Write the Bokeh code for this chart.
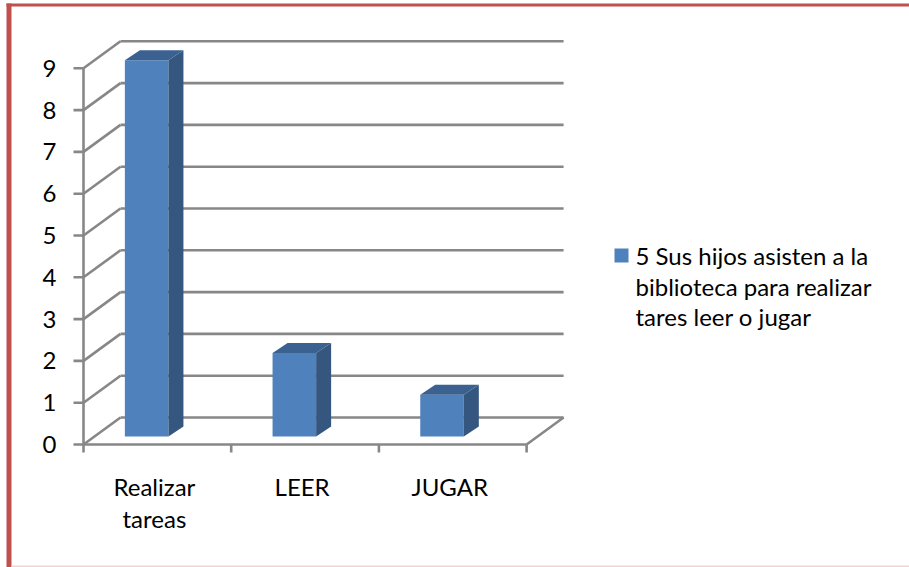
from bokeh.plotting import figure
from bokeh.models import Range1d
from bokeh.core.properties import value
from bokeh.embed import file_html
from bokeh.resources import INLINE

# ---- data ----
categories = ["Realizar\ntareas", "LEER", "JUGAR"]
values = [9, 2, 1]
y_ticks = [0, 1, 2, 3, 4, 5, 6, 7, 8, 9]
x_bounds = [0, 1, 2, 3]
legend_lines = ["5 Sus hijos asisten a la", "biblioteca  para realizar", "tares leer o jugar"]

# ---- geometry (pixel scale of the drawing) ----
W, H = 909, 567
SX, X0 = 147.7, 83.0   # px per category, px of category origin
SY, Y0 = 41.8, 444.0   # px per unit value, px (from top) of value 0

def xd(px):
    return (px - X0) / SX

def yd(py):
    return (Y0 - py) / SY

DX = 37 / SX          # depth offset of back wall
DY = 27 / SY
BAR_L, BAR_R = 0.28, 0.575   # bar front face within a category
BAR_B = 8 / SY               # bar base lift (depth)
SDX, SDY = 15 / SX, 10 / SY  # bar side depth

FONT = value("Lato")
FS = "24px"
GRID = "#878787"
FRONT, SIDE, TOP = "#4f81bd", "#34567f", "#3b6191"

p = figure(width=W, height=H, x_range=Range1d(xd(0), xd(W)), y_range=Range1d(yd(H), yd(0)),
           x_axis_type=None, y_axis_type=None, toolbar_location=None,
           output_backend="svg", min_border=0)
p.grid.visible = False
p.outline_line_color = None
p.background_fill_color = "white"
p.border_fill_color = "white"

# ---- frame decoration ----
p.quad(left=[xd(6)], right=[xd(11)], bottom=[yd(567)], top=[yd(3)], color="#c0504d", line_color=None)
p.quad(left=[xd(6)], right=[xd(909)], bottom=[yd(6)], top=[yd(3)], color="#c0504d", line_color=None)
p.quad(left=[xd(11)], right=[xd(909)], bottom=[yd(567)], top=[yd(565)], color="#f4d2d2", line_color=None)

# ---- walls / gridlines ----
n = len(categories)
p.segment(x0=[DX] * len(y_ticks), y0=[t + DY for t in y_ticks],
          x1=[n + DX] * len(y_ticks), y1=[t + DY for t in y_ticks], line_color=GRID, line_width=2.6)
p.segment(x0=[0] * len(y_ticks), y0=y_ticks, x1=[DX] * len(y_ticks), y1=[t + DY for t in y_ticks],
          line_color=GRID, line_width=2.6)
# floor front edge and right edge
p.segment(x0=[0, n], y0=[0, 0], x1=[n, n + DX], y1=[0, DY], line_color=GRID, line_width=2.6)
# vertical axis
p.segment(x0=[0], y0=[0], x1=[0], y1=[max(y_ticks)], line_color=GRID, line_width=2.6)
# y ticks
p.segment(x0=[-10 / SX] * len(y_ticks), y0=y_ticks, x1=[0] * len(y_ticks), y1=y_ticks,
          line_color=GRID, line_width=2.6)
# x ticks
p.segment(x0=x_bounds, y0=[0] * len(x_bounds), x1=x_bounds, y1=[-8 / SY] * len(x_bounds),
          line_color=GRID, line_width=2.6)

# y tick labels
p.text(x=[-27 / SX] * len(y_ticks), y=y_ticks, text=[str(t) for t in y_ticks],
       text_font=FONT, text_font_size=FS, text_align="right", text_baseline="middle",
       text_color="#000000")

# category labels
p.text(x=[i + 0.48 for i in range(n)], y=[yd(471)] * n, text=categories,
       text_font=FONT, text_font_size=FS, text_align="center", text_baseline="top",
       text_line_height=1.12, text_color="#000000")

# ---- bars ----
idx = list(range(n))
left = [i + BAR_L for i in idx]
right = [i + BAR_R for i in idx]
bottom = [BAR_B] * n
top = [v + BAR_B for v in values]
p.quad(left=left, right=right, bottom=bottom, top=top, color=FRONT, line_color=None)
side_xs = [[r, r + SDX, r + SDX, r] for r in right]
side_ys = [[b, b + SDY, t + SDY, t] for b, t in zip(bottom, top)]
p.patches(xs=side_xs, ys=side_ys, color=SIDE, line_color=None)
top_xs = [[l, l + SDX, r + SDX, r] for l, r in zip(left, right)]
top_ys = [[t, t + SDY, t + SDY, t] for t in top]
p.patches(xs=top_xs, ys=top_ys, color=TOP, line_color=None)

# ---- legend ----
p.quad(left=[xd(614)], right=[xd(628)], bottom=[yd(262)], top=[yd(248)], color=FRONT, line_color=None)
p.text(x=[xd(635)] * 3, y=[yd(255), yd(286), yd(316)], text=legend_lines, text_font=FONT,
       text_font_size=FS, text_align="left", text_baseline="middle", text_color="#000000")

open("out.html", "w").write(file_html(p, INLINE))
